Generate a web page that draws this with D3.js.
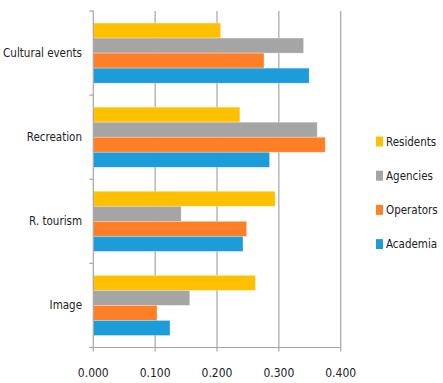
<!DOCTYPE html>
<html>
<head>
<meta charset="utf-8">
<script src="https://cdn.jsdelivr.net/npm/d3@7"></script>
<style>
  body { margin: 0; background: #fff; }
  text { font-family: "DejaVu Sans", sans-serif; font-stretch: condensed; fill: #222; }
</style>
</head>
<body>
<svg id="chart" width="443" height="383"></svg>
<script>
// categories top to bottom
var categories = ['Cultural events', 'Recreation', 'R. tourism', 'Image'];
// series in drawing order inside each group (top to bottom)
var seriesNames = ['Residents', 'Agencies', 'Operators', 'Academia'];
var seriesColors = ['#FFC000', '#A5A5A5', '#FF7F27', '#1C9DD9'];
var residents = [0.206, 0.237, 0.294, 0.262];
var agencies  = [0.340, 0.362, 0.142, 0.156];
var operators = [0.276, 0.375, 0.248, 0.103];
var academia  = [0.349, 0.285, 0.242, 0.124];
var xTicks = [0, 0.1, 0.2, 0.3, 0.4];

var svg = d3.select('#chart');
var plotLeft = 93.3, plotRight = 340.7, plotTop = 11, plotBottom = 347.5;

var xScale = d3.scaleLinear().domain([0, 0.4]).range([plotLeft, plotRight]);
var yScale = d3.scaleBand().domain(categories).range([plotTop, plotBottom]).paddingInner(0.285).paddingOuter(0.143);
var innerScale = d3.scaleBand().domain(seriesNames).range([0, yScale.bandwidth()]);

var values = [residents, agencies, operators, academia];

// gridlines
svg.append('g')
  .selectAll('line')
  .data(xTicks.slice(1))
  .enter()
  .append('line')
  .attr('x1', function(d) {return(xScale(d));})
  .attr('x2', function(d) {return(xScale(d));})
  .attr('y1', plotTop)
  .attr('y2', plotBottom + 4)
  .attr('stroke', '#a6a6a6')
  .attr('stroke-width', 1.2);

// bars
categories.forEach(function(cat, ci) {
  seriesNames.forEach(function(s, si) {
    svg.append('rect')
      .attr('x', xScale(0))
      .attr('y', yScale(cat) + innerScale(s))
      .attr('width', xScale(values[si][ci]) - xScale(0))
      .attr('height', innerScale.bandwidth())
      .attr('fill', seriesColors[si])
      .attr('stroke', '#fff')
      .attr('stroke-opacity', 0.5)
      .attr('stroke-width', 0.6);
  });
});

// y axis
var yAxis = svg.append('g');
yAxis.append('line')
  .attr('x1', plotLeft).attr('x2', plotLeft)
  .attr('y1', plotTop - 0.5).attr('y2', plotBottom + 4)
  .attr('stroke', '#a6a6a6').attr('stroke-width', 1.2);
var boundaries = categories.map(function(c) {return(yScale(c) - yScale.step() * yScale.paddingInner() / 2);});
boundaries[0] = plotTop;
boundaries.push(plotBottom);
yAxis.selectAll('line.tick')
  .data(boundaries)
  .enter()
  .append('line')
  .attr('class', 'tick')
  .attr('x1', plotLeft - 4).attr('x2', plotLeft)
  .attr('y1', function(d) {return(d);})
  .attr('y2', function(d) {return(d);})
  .attr('stroke', '#a6a6a6').attr('stroke-width', 1.2);
yAxis.selectAll('text')
  .data(categories)
  .enter()
  .append('text')
  .attr('x', 82)
  .attr('y', function(d) {return(yScale(d) + yScale.bandwidth() / 2);})
  .attr('dy', '0.35em')
  .attr('text-anchor', 'end')
  .style('font-size', '11.5px')
  .text(function(d) {return(d);});

// x axis
var xAxis = svg.append('g');
xAxis.append('line')
  .attr('x1', plotLeft - 4).attr('x2', plotRight)
  .attr('y1', plotBottom).attr('y2', plotBottom)
  .attr('stroke', '#a6a6a6').attr('stroke-width', 1.2);
xAxis.selectAll('text')
  .data(xTicks)
  .enter()
  .append('text')
  .attr('x', function(d) {return(xScale(d));})
  .attr('y', 373)
  .attr('dy', '0.35em')
  .attr('text-anchor', 'middle')
  .style('font-size', '12px')
  .text(function(d) {return(d3.format('.3f')(d));});

// legend
var legend = svg.append('g')
  .selectAll('g')
  .data(seriesNames)
  .enter()
  .append('g')
  .attr('transform', function(d, i) {return('translate(376,' + (141.5 + i * 34.2) + ')');});
legend.append('rect')
  .attr('x', 0).attr('y', -5)
  .attr('width', 7).attr('height', 10)
  .attr('fill', function(d, i) {return(seriesColors[i]);});
legend.append('text')
  .attr('x', 10).attr('y', 0)
  .attr('dy', '0.35em')
  .style('font-size', '11.5px')
  .text(function(d) {return(d);});
</script>
</body>
</html>
